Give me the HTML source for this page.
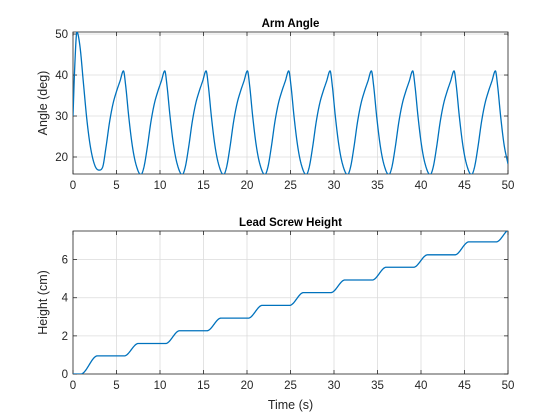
<!DOCTYPE html>
<html><head><meta charset="utf-8">
<style>
html,body{margin:0;padding:0;background:#fff;}
svg{display:block;font-family:"Liberation Sans",Arial,sans-serif;}
</style></head>
<body>
<svg id="fig" width="560" height="420" viewBox="0 0 560 420">
<rect width="560" height="420" fill="#fff"/>
<defs>
<clipPath id="c1"><rect x="73" y="32" width="435" height="142"/></clipPath>
<clipPath id="c2"><rect x="73" y="231" width="435" height="143"/></clipPath>
</defs>
<g id="ax1"></g>
<g id="ax2"></g>
</svg>
<script>
// ---- data ----
const xTicks = [0,5,10,15,20,25,30,35,40,45,50];
const angleTicks = [20,30,40,50];
const heightTicks = [0,2,4,6];
const angleT = [0,0.2,0.45,0.8,1.2,1.6,2.0,2.5,3.0,
3.4,3.8,4.2,4.6,5.0,5.4,5.8,6.05,6.4,6.8,7.2,7.8,
8.15,8.55,8.95,9.35,9.75,10.15,10.55,10.8,11.15,11.55,11.95,12.55,
12.9,13.3,13.7,14.1,14.5,14.9,15.3,15.55,15.9,16.3,16.7,17.3,
17.65,18.05,18.45,18.85,19.25,19.65,20.05,20.3,20.65,21.05,21.45,22.05,
22.4,22.8,23.2,23.6,24.0,24.4,24.8,25.05,25.4,25.8,26.2,26.8,
27.15,27.55,27.95,28.35,28.75,29.15,29.55,29.8,30.15,30.55,30.95,31.55,
31.9,32.3,32.7,33.1,33.5,33.9,34.3,34.55,34.9,35.3,35.7,36.3,
36.65,37.05,37.45,37.85,38.25,38.65,39.05,39.3,39.65,40.05,40.45,41.05,
41.4,41.8,42.2,42.6,43.0,43.4,43.8,44.05,44.4,44.8,45.2,45.8,
46.15,46.55,46.95,47.35,47.75,48.15,48.55,48.8,49.15,49.55,50.0];
const angleV = [30,42,50.5,47,38,29,22.5,18,16.8,
17.5,22.5,28.5,33,36,38.5,41,37.5,30,23,18.5,15.7,
17.5,22.5,28.5,33,36,38.5,41,37.5,30,23,18.5,15.7,
17.5,22.5,28.5,33,36,38.5,41,37.5,30,23,18.5,15.7,
17.5,22.5,28.5,33,36,38.5,41,37.5,30,23,18.5,15.7,
17.5,22.5,28.5,33,36,38.5,41,37.5,30,23,18.5,15.7,
17.5,22.5,28.5,33,36,38.5,41,37.5,30,23,18.5,15.7,
17.5,22.5,28.5,33,36,38.5,41,37.5,30,23,18.5,15.7,
17.5,22.5,28.5,33,36,38.5,41,37.5,30,23,18.5,15.7,
17.5,22.5,28.5,33,36,38.5,41,37.5,30,23,18.5,15.7,
17.5,22.5,28.5,33,36,38.5,41,37.5,30,23,18.3];
const stepStart = [0.9,5.9,10.65,15.4,20.15,24.9,29.65,34.4,39.15,43.9,48.65];
const stepLevel = [0.95,1.6,2.27,2.93,3.6,4.27,4.93,5.6,6.25,6.93,7.6];
// ---- layout ----
const NS="http://www.w3.org/2000/svg";
function mk(tag,attrs,parent){const e=document.createElementNS(NS,tag);for(const k in attrs)e.setAttribute(k,attrs[k]);parent.appendChild(e);return e;}
const L=73,R=508;
const sx=t=>L+(t-0)/(50-0)*(R-L);
const A1={top:32,bot:174,y0:15.85,y1:50.5};
const A2={top:231,bot:374,y0:0,y1:7.5};
const sy1=v=>A1.bot-(v-A1.y0)/(A1.y1-A1.y0)*(A1.bot-A1.top);
const sy2=v=>A2.bot-(v-A2.y0)/(A2.y1-A2.y0)*(A2.bot-A2.top);

function axes(g,A,sy,yt,title,ylabel,xlabel,prefix){
  mk('rect',{x:L,y:A.top,width:R-L,height:A.bot-A.top,fill:'#fff'},g);
  xTicks.forEach(t=>{const l=mk('line',{x1:sx(t),x2:sx(t),y1:A.top,y2:A.bot,stroke:'#dcdcdc','stroke-width':0.8},g);
    });
  yt.forEach(v=>{const l=mk('line',{x1:L,x2:R,y1:sy(v),y2:sy(v),stroke:'#dcdcdc','stroke-width':0.8},g);
    });
  const box=mk('rect',{x:L,y:A.top,width:R-L,height:A.bot-A.top,fill:'none',stroke:'#262626','stroke-width':0.8},g);
  
  xTicks.forEach(t=>{
    mk('line',{x1:sx(t),x2:sx(t),y1:A.bot,y2:A.bot-4,stroke:'#262626','stroke-width':0.8},g);
    mk('line',{x1:sx(t),x2:sx(t),y1:A.top,y2:A.top+4,stroke:'#262626','stroke-width':0.8},g);
    const tx=mk('text',{x:sx(t),y:A.bot+15,'font-size':11.5,fill:'#262626','text-anchor':'middle'},g);tx.textContent=t;
    
  });
  yt.forEach(v=>{
    mk('line',{x1:L,x2:L+4,y1:sy(v),y2:sy(v),stroke:'#262626','stroke-width':0.8},g);
    mk('line',{x1:R,x2:R-4,y1:sy(v),y2:sy(v),stroke:'#262626','stroke-width':0.8},g);
    const tx=mk('text',{x:L-5,y:sy(v)+4,'font-size':11.5,fill:'#262626','text-anchor':'end'},g);tx.textContent=v;
    
  });
  const ti=mk('text',{x:(L+R)/2,y:A.top-5,'font-size':11.5,'font-weight':'bold',fill:'#000','text-anchor':'middle'},g);ti.textContent=title;
  
  const yc=(A.top+A.bot)/2;
  const yl=mk('text',{x:0,y:0,'font-size':12.5,fill:'#262626','text-anchor':'middle',transform:`translate(47,${yc}) rotate(-90)`},g);yl.textContent=ylabel;
  
  if(xlabel){const xl=mk('text',{x:(L+R)/2,y:A.bot+35,'font-size':12.5,fill:'#262626','text-anchor':'middle'},g);xl.textContent=xlabel;
    }
}
const g1=document.getElementById('ax1'),g2=document.getElementById('ax2');
axes(g1,A1,sy1,angleTicks,'Arm Angle','Angle (deg)',null,'angle');
axes(g2,A2,sy2,heightTicks,'Lead Screw Height','Height (cm)','Time (s)','height');

// monotone cubic interpolation
function monotone(xs,ys){
  const n=xs.length,d=[],m=new Array(n);
  for(let i=0;i<n-1;i++)d.push((ys[i+1]-ys[i])/(xs[i+1]-xs[i]));
  m[0]=d[0];m[n-1]=d[n-2];
  for(let i=1;i<n-1;i++){m[i]=(d[i-1]*d[i]<=0)?0:(d[i-1]+d[i])/2;}
  for(let i=0;i<n-1;i++){if(d[i]===0){m[i]=0;m[i+1]=0;continue;}
    const a=m[i]/d[i],b=m[i+1]/d[i],s=a*a+b*b;if(s>9){const t=3/Math.sqrt(s);m[i]=t*a*d[i];m[i+1]=t*b*d[i];}}
  return x=>{let i=0;while(i<n-2&&x>xs[i+1])i++;const h=xs[i+1]-xs[i],t=(x-xs[i])/h;
    const h00=2*t*t*t-3*t*t+1,h10=t*t*t-2*t*t+t,h01=-2*t*t*t+3*t*t,h11=t*t*t-t*t;
    return h00*ys[i]+h10*h*m[i]+h01*ys[i+1]+h11*h*m[i+1];};
}
const fa=monotone(angleT,angleV);
let p='';
for(let t=0;t<=50.0001;t+=0.02){p+=(p?'L':'M')+sx(t).toFixed(2)+','+sy1(fa(t)).toFixed(2);}
const pl1=mk('path',{d:p,fill:'none',stroke:'#0072BD','stroke-width':1.3,'clip-path':'url(#c1)'},g1);



function height(t){
  let h=0;
  for(let i=0;i<stepStart.length;i++){
    const prev=i===0?0:stepLevel[i-1],dur=i===0?1.9:1.6;
    const u=Math.min(1,Math.max(0,(t-stepStart[i])/dur));
    const s=u*u*(3-2*u);
    if(t>=stepStart[i]) h=prev+(stepLevel[i]-prev)*s;
  }
  return h;
}
let q='';
for(let t=0;t<=50.0001;t+=0.05){q+=(q?'L':'M')+sx(t).toFixed(2)+','+sy2(height(t)).toFixed(2);}
const pl2=mk('path',{d:q,fill:'none',stroke:'#0072BD','stroke-width':1.3,'clip-path':'url(#c2)'},g2);


</script>
</body></html>
